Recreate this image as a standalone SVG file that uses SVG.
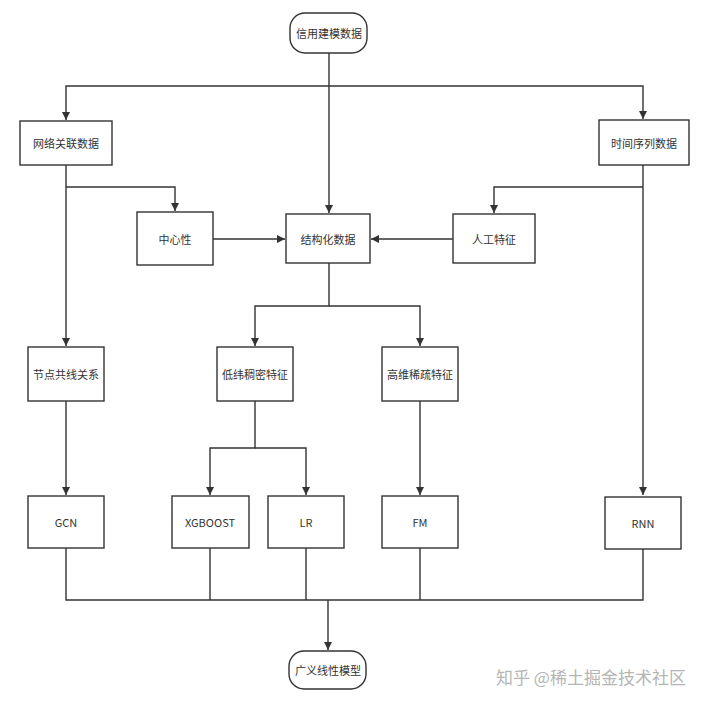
<svg xmlns="http://www.w3.org/2000/svg" width="706" height="704" viewBox="0 0 706 704">
<style>
.n{fill:#fff;stroke:#333;stroke-width:1.4}
.t{font-family:"Noto Sans CJK SC","Liberation Sans",sans-serif;font-size:11px;fill:#333;text-anchor:middle;dominant-baseline:central}
.c{fill:none;stroke:#333;stroke-width:1.4}
.wm{font-family:"Noto Sans CJK SC",sans-serif;font-size:17px;fill:#b5b5b5}
</style>
<defs>
<marker id="a" viewBox="0 0 10 10" refX="10" refY="5" markerWidth="8" markerHeight="8" markerUnits="userSpaceOnUse" orient="auto">
<path d="M0,0 L10,5 L0,10 z" fill="#333"/>
</marker>
</defs>
<rect width="706" height="704" fill="#fff"/>
<g id="connectors">
<path class="c" d="M329,53 V213" marker-end="url(#a)"/>
<path class="c" d="M329,86 H66 V120" marker-end="url(#a)"/>
<path class="c" d="M329,86 H643 V119" marker-end="url(#a)"/>
<path class="c" d="M66,165 V346" marker-end="url(#a)"/>
<path class="c" d="M66,187 H175 V211" marker-end="url(#a)"/>
<path class="c" d="M643,165 V495" marker-end="url(#a)"/>
<path class="c" d="M643,187 H494 V213" marker-end="url(#a)"/>
<path class="c" d="M213,239 H285" marker-end="url(#a)"/>
<path class="c" d="M453,239 H371" marker-end="url(#a)"/>
<path class="c" d="M329,263 V306 H255 V346" marker-end="url(#a)"/>
<path class="c" d="M329,306 H420 V346" marker-end="url(#a)"/>
<path class="c" d="M66,401 V495" marker-end="url(#a)"/>
<path class="c" d="M255,401 V448 H210 V495" marker-end="url(#a)"/>
<path class="c" d="M255,448 H306 V495" marker-end="url(#a)"/>
<path class="c" d="M420,401 V495" marker-end="url(#a)"/>
<path class="c" d="M66,548 V600 H643 V548"/>
<path class="c" d="M210,548 V600"/>
<path class="c" d="M306,548 V600"/>
<path class="c" d="M420,548 V600"/>
<path class="c" d="M328,600 V650" marker-end="url(#a)"/>
</g>
<g id="n1"><rect class="n" x="290" y="13" width="77" height="40" rx="15"/><text class="t" x="329" y="33">信用建模数据</text></g>
<g id="n2"><rect class="n" x="20" y="121" width="92" height="44"/><text class="t" x="66" y="143">网络关联数据</text></g>
<g id="n3"><rect class="n" x="599" y="120" width="90" height="45"/><text class="t" x="644" y="143">时间序列数据</text></g>
<g id="n4"><rect class="n" x="137" y="212" width="76" height="53"/><text class="t" x="175" y="239">中心性</text></g>
<g id="n5"><rect class="n" x="286" y="214" width="84" height="49"/><text class="t" x="328" y="239">结构化数据</text></g>
<g id="n6"><rect class="n" x="453" y="214" width="82" height="49"/><text class="t" x="494" y="239">人工特征</text></g>
<g id="n7"><rect class="n" x="28" y="347" width="76" height="54"/><text class="t" x="66" y="374">节点共线关系</text></g>
<g id="n8"><rect class="n" x="217" y="347" width="76" height="54"/><text class="t" x="255" y="374">低纬稠密特征</text></g>
<g id="n9"><rect class="n" x="382" y="347" width="76" height="54"/><text class="t" x="420" y="374">高维稀疏特征</text></g>
<g id="n10"><rect class="n" x="28" y="496" width="76" height="52"/><text class="t" x="66" y="522">GCN</text></g>
<g id="n11"><rect class="n" x="172" y="496" width="77" height="52"/><text class="t" x="210" y="522">XGBOOST</text></g>
<g id="n12"><rect class="n" x="268" y="496" width="76" height="52"/><text class="t" x="306" y="522">LR</text></g>
<g id="n13"><rect class="n" x="382" y="496" width="76" height="52"/><text class="t" x="420" y="522">FM</text></g>
<g id="n14"><rect class="n" x="605" y="497" width="76" height="52"/><text class="t" x="643" y="523">RNN</text></g>
<g id="n15"><rect class="n" x="289" y="651" width="77" height="38" rx="15"/><text class="t" x="328" y="670">广义线性模型</text></g>
<text class="wm" x="496" y="684">知乎 @稀土掘金技术社区</text>
</svg>
